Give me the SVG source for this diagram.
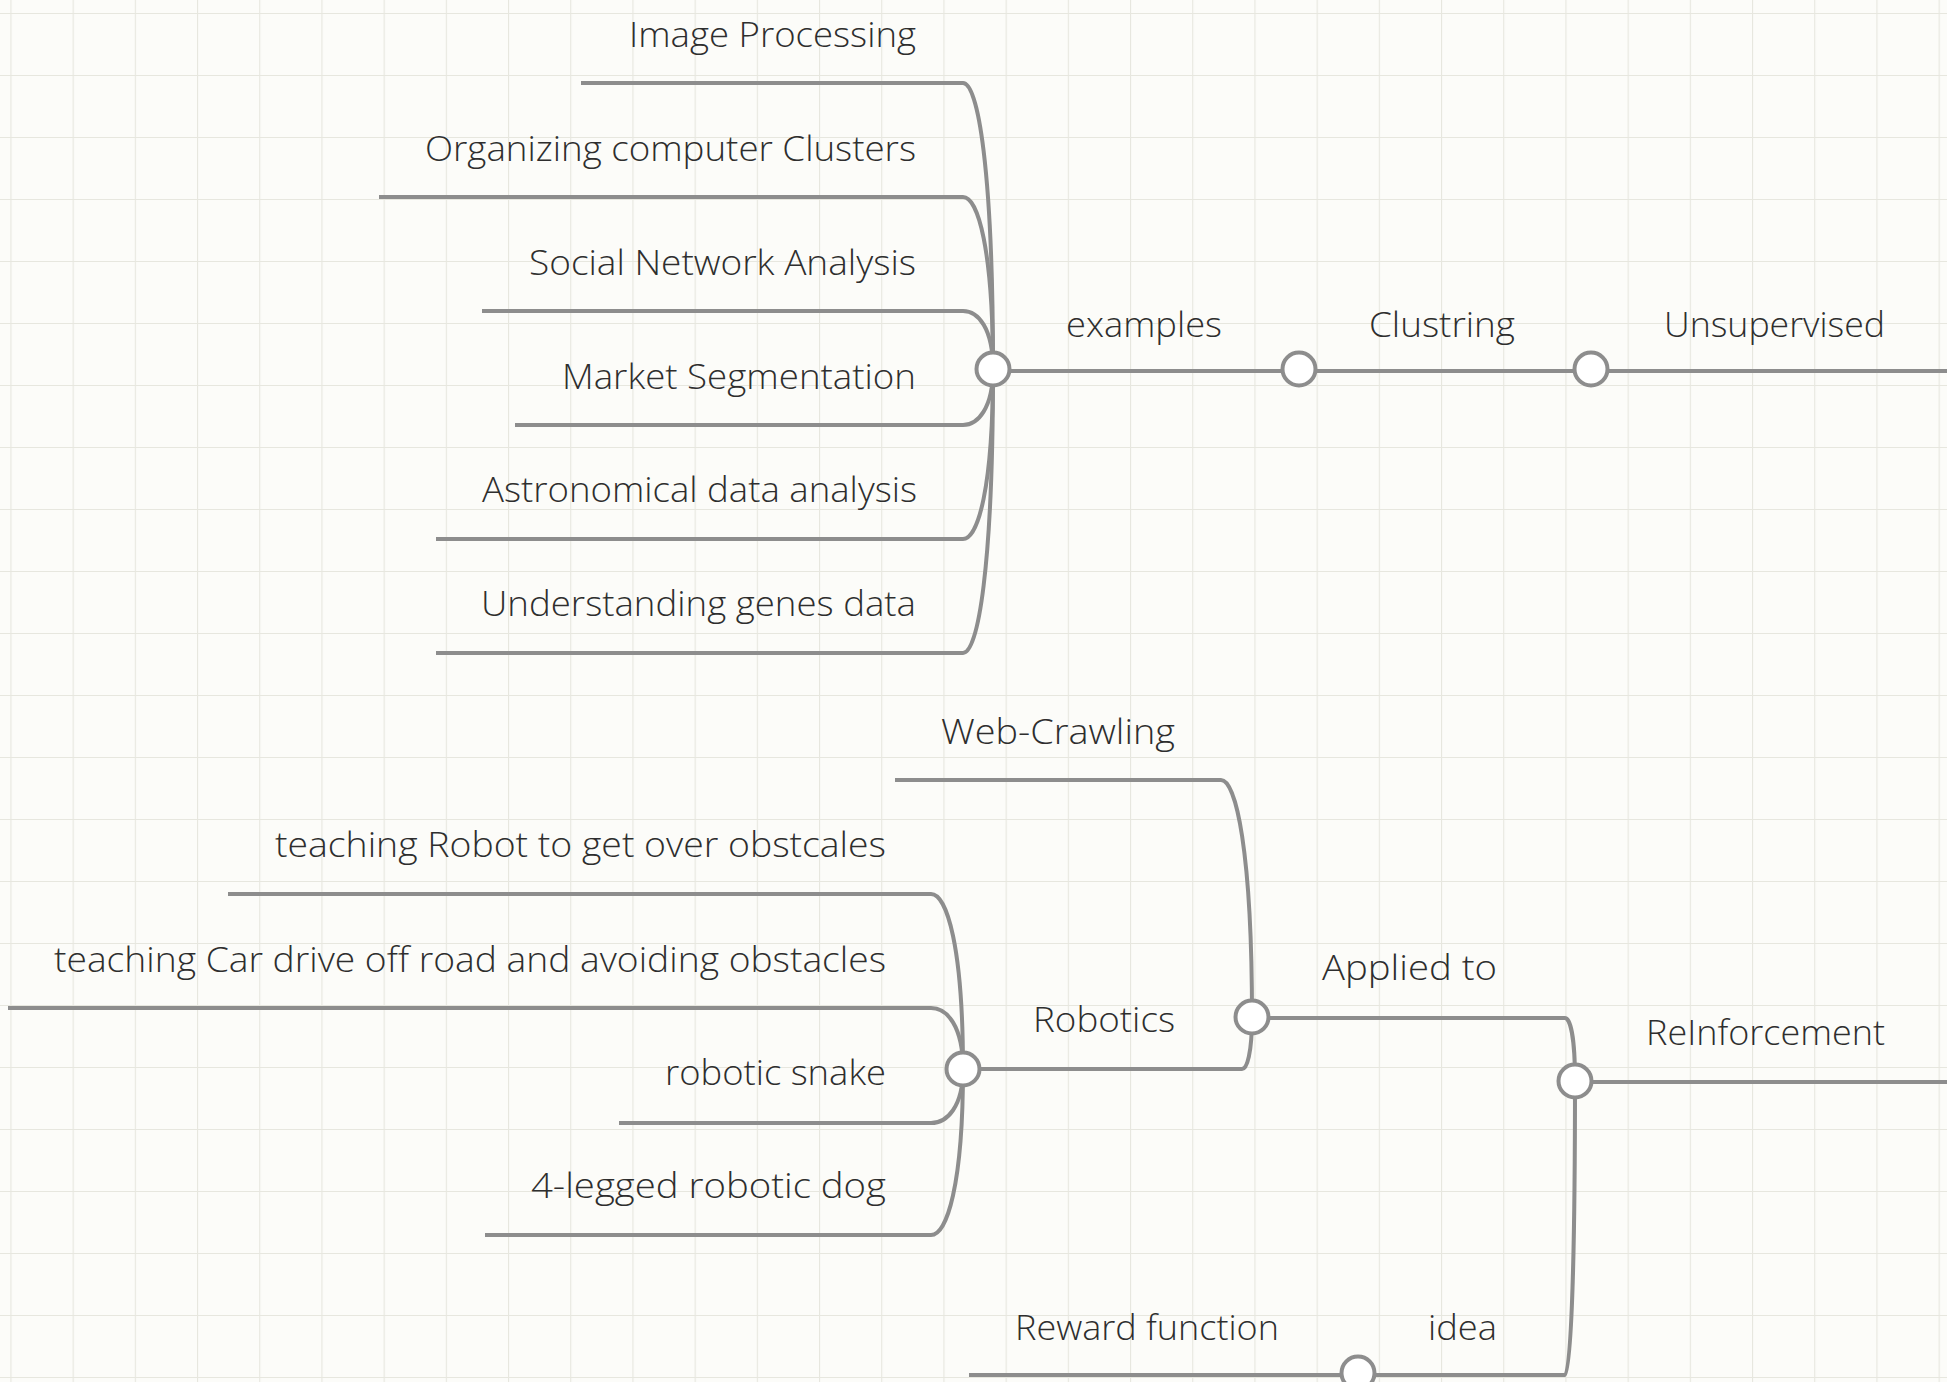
<svg xmlns="http://www.w3.org/2000/svg" width="1947" height="1382" viewBox="0 0 1947 1382">
<defs>
<pattern id="grid" patternUnits="userSpaceOnUse" x="10.4" y="13" width="62.2" height="62">
<rect width="62.2" height="62" fill="#fcfcf9"/>
<path d="M0 0 V62 M0 0 H62.2" stroke="#e7e7df" stroke-width="2.2" fill="none"/>
</pattern>
<style>
.c{fill:none;stroke:#8d8d8d;stroke-width:4;stroke-linecap:butt;stroke-linejoin:round}
.n{fill:#ffffff;stroke:#8d8d8d;stroke-width:4}
.t{font-family:"Open Sans","Noto Sans",sans-serif;font-size:35px;font-weight:350;fill:#2e2e2e}
</style>
</defs>
<rect width="1947" height="1382" fill="url(#grid)"/>
<g id="connectors">
<path class="c" d="M581 83 H963 C978 83 993 169 993 369"/>
<path class="c" d="M379 197 H963 C978 197 993 249 993 369"/>
<path class="c" d="M482 311 H963 C978 311 993 328 993 369"/>
<path class="c" d="M515 425 H963 C978 425 993 408 993 369"/>
<path class="c" d="M436 539 H963 C978 539 993 488 993 369"/>
<path class="c" d="M436 653 H963 C978 653 993 568 993 369"/>
<path class="c" d="M993 371 H1299"/>
<path class="c" d="M1299 371 H1591"/>
<path class="c" d="M1591 371 H1947"/>
<path class="c" d="M228 894 H931 C947 894 963 947 963 1069"/>
<path class="c" d="M8 1008 H931 C947 1008 963 1026 963 1069"/>
<path class="c" d="M619 1123 H931 C947 1123 963 1107 963 1069"/>
<path class="c" d="M485 1235 H931 C947 1235 963 1185 963 1069"/>
<path class="c" d="M895 780 H1221 C1236 780 1252 851 1252 1017"/>
<path class="c" d="M963 1069 H1242 C1247 1069 1252 1053 1252 1017"/>
<path class="c" d="M1252 1018 H1565 C1570 1018 1575 1037 1575 1081"/>
<path class="c" d="M969 1375 H1565 C1570 1375 1575 1287 1575 1081"/>
<path class="c" d="M1575 1082 H1947"/>
</g>
<g id="node-image-processing"><text class="t" x="629" y="47" textLength="287" lengthAdjust="spacingAndGlyphs">Image Processing</text></g>
<g id="node-organizing"><text class="t" x="425" y="161" textLength="491" lengthAdjust="spacingAndGlyphs">Organizing computer Clusters</text></g>
<g id="node-social"><text class="t" x="529" y="275" textLength="387" lengthAdjust="spacingAndGlyphs">Social Network Analysis</text></g>
<g id="node-market"><text class="t" x="562" y="389" textLength="354" lengthAdjust="spacingAndGlyphs">Market Segmentation</text></g>
<g id="node-astronomical"><text class="t" x="482" y="502" textLength="435" lengthAdjust="spacingAndGlyphs">Astronomical data analysis</text></g>
<g id="node-genes"><text class="t" x="481" y="616" textLength="435" lengthAdjust="spacingAndGlyphs">Understanding genes data</text></g>
<g id="node-examples"><circle class="n" cx="993" cy="369" r="16.5"/><text class="t" x="1066" y="337" textLength="156" lengthAdjust="spacingAndGlyphs">examples</text></g>
<g id="node-clustring"><circle class="n" cx="1299" cy="369" r="16.5"/><text class="t" x="1369" y="337" textLength="146" lengthAdjust="spacingAndGlyphs">Clustring</text></g>
<g id="node-unsupervised"><circle class="n" cx="1591" cy="369" r="16.5"/><text class="t" x="1664" y="337" textLength="221" lengthAdjust="spacingAndGlyphs">Unsupervised</text></g>
<g id="node-web-crawling"><text class="t" x="941" y="744" textLength="234" lengthAdjust="spacingAndGlyphs">Web-Crawling</text></g>
<g id="node-robot-obstacles"><text class="t" x="275" y="857" textLength="611" lengthAdjust="spacingAndGlyphs">teaching Robot to get over obstcales</text></g>
<g id="node-car"><text class="t" x="54" y="972" textLength="832" lengthAdjust="spacingAndGlyphs">teaching Car drive off road and avoiding obstacles</text></g>
<g id="node-snake"><text class="t" x="665" y="1085" textLength="221" lengthAdjust="spacingAndGlyphs">robotic snake</text></g>
<g id="node-dog"><text class="t" x="531" y="1198" textLength="355" lengthAdjust="spacingAndGlyphs">4-legged robotic dog</text></g>
<g id="node-robotics"><circle class="n" cx="963" cy="1069" r="16.5"/><text class="t" x="1033" y="1032" textLength="142" lengthAdjust="spacingAndGlyphs">Robotics</text></g>
<g id="node-applied-to"><circle class="n" cx="1252" cy="1017" r="16.5"/><text class="t" x="1322" y="980" textLength="175" lengthAdjust="spacingAndGlyphs">Applied to</text></g>
<g id="node-reinforcement"><circle class="n" cx="1575" cy="1081" r="16.5"/><text class="t" x="1646" y="1045" textLength="239" lengthAdjust="spacingAndGlyphs">ReInforcement</text></g>
<g id="node-reward"><text class="t" x="1015" y="1340" textLength="264" lengthAdjust="spacingAndGlyphs">Reward function</text></g>
<g id="node-idea"><circle class="n" cx="1358" cy="1373" r="16.5"/><text class="t" x="1428" y="1340" textLength="69" lengthAdjust="spacingAndGlyphs">idea</text></g>
</svg>
